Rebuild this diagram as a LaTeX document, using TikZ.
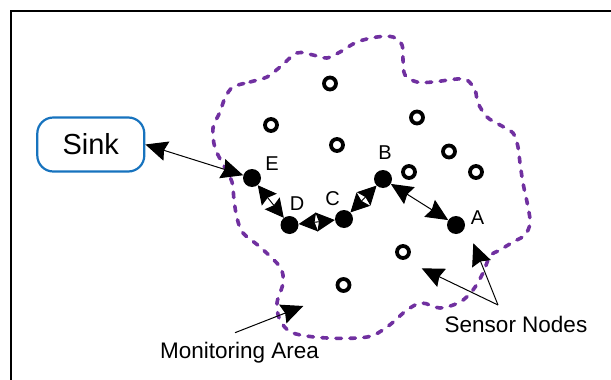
\documentclass[tikz,border=0pt]{standalone}
\usepackage{fontspec}
\setmainfont{Liberation Sans}
\usetikzlibrary{arrows.meta}
\definecolor{sinkblue}{RGB}{23,115,190}
\definecolor{areapurple}{RGB}{112,48,160}
\begin{document}
\begin{tikzpicture}[x=1pt,y=-1pt,
  hop/.style={circle,fill=black,minimum size=18pt,inner sep=0pt},
  idle/.style={circle,draw=black,line width=3.8pt,minimum size=12pt,inner sep=0pt},
  lbl/.style={font=\fontsize{20}{24}\selectfont,anchor=base,inner sep=0pt},
  caption/.style={font=\fontsize{22.5}{27}\selectfont,anchor=base,inner sep=0pt},
  sinkbox/.style={draw=sinkblue,line width=2.2pt,rounded corners=16pt,minimum width=107pt,minimum height=54pt,inner sep=0pt,font=\fontsize{29}{34}\selectfont},
  link/.style={line width=1pt,{Stealth[length=22pt,width=20pt,inset=2.5pt]}-{Stealth[length=22pt,width=20pt,inset=2.5pt]}},
  hoplink/.style={line width=1pt,{Stealth[length=18.5pt,width=19pt,inset=2.5pt]}-{Stealth[length=18.5pt,width=19pt,inset=2.5pt]}},
  pointer/.style={line width=1pt,-{Stealth[length=22pt,width=20pt,inset=2.5pt]}},
  area/.style={draw=areapurple,line width=3.6pt,line cap=round,dash pattern=on 5.5pt off 8.5pt}]
\useasboundingbox (0,0) rectangle (611,380);
% frame
\draw[line width=2.5pt] (11,400) -- (11,11) -- (640,11);
% monitoring area boundary
\draw[area] plot[smooth cycle,tension=0.55] coordinates {
 (233,87) (250,82) (267,77) (280,67) (297,53) (313,55) (327,58) (340,52) (357,42) (377,37) (393,37) (402,45) (403,60) (405,75) (417,82) (433,82) (457,79) (467,80) (475,90) (478,103) (487,117) (500,125) (513,133) (518,147) (520,163) (523,183) (528,207) (530,223) (525,235) (513,242) (500,250) (490,256) (483,273) (473,290) (460,302) (440,308) (422,303) (407,310) (387,327) (367,337) (327,338) (293,333) (280,320) (277,303) (283,283) (280,267) (260,247) (243,233) (237,218) (234,200) (232,182) (224,166) (215,148) (213,128) (220,112) (225,98)};
% sink
\node[sinkbox] (sink) at (90.8,144.5) {Sink};
% idle sensors
\node[idle] (s1) at (330,83.5) {};
\node[idle] (s2) at (271,125) {};
\node[idle] (s3) at (337,145) {};
\node[idle] (s4) at (417,117.5) {};
\node[idle] (s5) at (449,151.5) {};
\node[idle] (s6) at (476,172) {};
\node[idle] (s7) at (409,172) {};
\node[idle] (s8) at (403,252) {};
\node[idle] (s9) at (343.5,285) {};
% route nodes
\node[hop] (E) at (252,178) {};
\node[hop] (D) at (289.5,225) {};
\node[hop] (C) at (344,219) {};
\node[hop] (B) at (383,179) {};
\node[hop] (A) at (456,225) {};
\node[lbl] (lE) at (272,170) {E};
\node[lbl] (lD) at (297,210) {D};
\node[lbl] (lC) at (332.5,205) {C};
\node[lbl] (lB) at (385,159.3) {B};
\node[lbl] (lA) at (477.5,224) {A};
% links
\draw[link] (sink.east) -- (E);
\draw[hoplink] (E) -- (D);
\draw[hoplink] (D) -- (C);
\draw[hoplink] (C) -- (B);
\draw[link] (B) -- (A);
% captions
\node[caption] (sn) at (516,332) {Sensor Nodes};
\node[caption] (ma) at (239.5,358) {Monitoring Area};
\coordinate (snfoot) at (498,305);
\coordinate (snt1) at (421.7,268.3);
\coordinate (snt2) at (473.3,243.3);
\coordinate (mafoot) at (235,332.7);
\coordinate (mat) at (303.3,306);
\draw[pointer] (snfoot) -- (snt1);
\draw[pointer] (snfoot) -- (snt2);
\draw[pointer] (mafoot) -- (mat);
\end{tikzpicture}
\end{document}
